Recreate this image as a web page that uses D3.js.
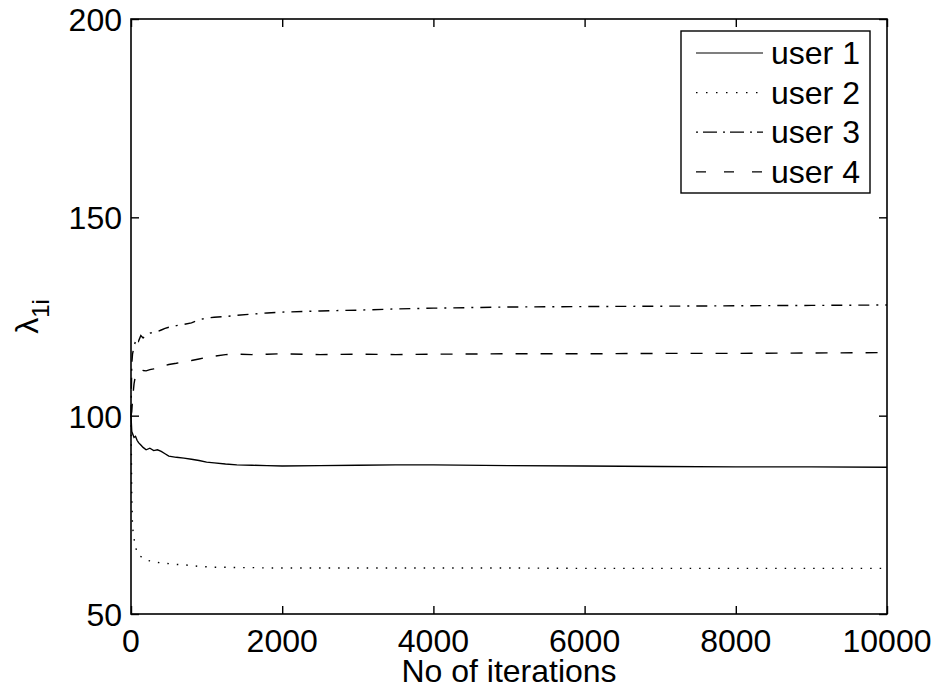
<!DOCTYPE html>
<html>
<head>
<meta charset="utf-8">
<script src="https://cdn.jsdelivr.net/npm/d3@7"></script>
<style>
  body { margin: 0; background: #fff; }
  svg { display: block; font-family: "Liberation Sans", Arial, sans-serif; }
</style>
</head>
<body>
<svg id="chart" width="938" height="694"></svg>
<script>
var ITERS = [0, 10, 20, 40, 60, 80, 100, 130, 160, 200, 250, 300, 350, 400, 450, 500,
  600, 700, 800, 900, 1000, 1100, 1250, 1400, 1600, 1800, 2000, 2500, 3000, 3500,
  4000, 5000, 6000, 7000, 8000, 9000, 10000];

var USER1 = [100, 96, 95.5, 94.5, 94.8, 93.8, 93.2, 92.6, 92.0, 91.4, 91.8, 91.2, 91.4, 91.0, 90.4, 89.8,
  89.5, 89.3, 89.0, 88.7, 88.3, 88.1, 87.8, 87.6, 87.5, 87.4, 87.3, 87.4, 87.5, 87.6,
  87.6, 87.4, 87.3, 87.2, 87.1, 87.1, 87.0];
var USER2 = [100, 80, 72, 69, 67, 65.5, 64.8, 64.5, 64.0, 63.6, 63.4, 63.3, 63.0, 62.9, 62.8, 62.7,
  62.5, 62.4, 62.2, 62.0, 61.9, 61.8, 61.8, 61.7, 61.7, 61.6, 61.6, 61.6, 61.6, 61.6,
  61.6, 61.6, 61.5, 61.5, 61.5, 61.5, 61.5];
var USER3 = [100, 113, 115.5, 117.5, 118.8, 119.5, 118.8, 120.2, 119.6, 120.4, 120.8, 121.0, 121.2, 121.6, 122.0, 122.3,
  122.7, 123.0, 123.4, 124.2, 124.6, 124.8, 125.0, 125.3, 125.6, 125.9, 126.1, 126.4, 126.6, 126.9,
  127.1, 127.4, 127.5, 127.6, 127.7, 127.8, 127.9];
var USER4 = [100, 101, 104, 108, 110.2, 110.8, 111.0, 110.9, 111.4, 111.3, 111.6, 111.8, 112.2, 112.5, 112.6, 112.9,
  113.2, 113.6, 113.9, 114.3, 114.7, 115.0, 115.4, 115.5, 115.4, 115.5, 115.6, 115.4, 115.5, 115.4,
  115.5, 115.6, 115.6, 115.7, 115.7, 115.8, 115.9];

var SERIES_NAMES = ["user 1", "user 2", "user 3", "user 4"];
var X_TICKS = [0, 2000, 4000, 6000, 8000, 10000];
var Y_TICKS = [50, 100, 150, 200];

var SERIES = [
  {name: SERIES_NAMES[0], values: USER1, dash: null, legDash: null},
  {name: SERIES_NAMES[1], values: USER2, dash: "1.5,8", legDash: "1.5,8.5"},
  {name: SERIES_NAMES[2], values: USER3, dash: "11,7,2,7", legDash: "2,5,14,6"},
  {name: SERIES_NAMES[3], values: USER4, dash: "12,13", legDash: "10,18"}
];

var svg = d3.select("#chart");
// note: "top" clashes with window.top, so plot edges get their own names
var plotL = 131, plotR = 887, plotT = 19, plotB = 614;

var x = d3.scaleLinear().domain([0, 10000]).range([plotL, plotR]);
var y = d3.scaleLinear().domain([50, 200]).range([plotB, plotT]);

// series lines
var line = d3.line()
  .x(function(d, i){ return x(ITERS[i]); })
  .y(function(d){ return y(d); });

svg.append("g").selectAll("path.series").data(SERIES).enter()
  .append("path")
  .attr("class", "series")
  .attr("d", function(d){ return line(d.values); })
  .attr("fill", "none")
  .attr("stroke", "#000")
  .attr("stroke-width", 1.4)
  .attr("stroke-dasharray", function(d){ return d.dash; });

// box with inward ticks on every side (matlab style)
var tickLen = 8;
svg.append("rect")
  .attr("x", plotL).attr("y", plotT)
  .attr("width", plotR - plotL).attr("height", plotB - plotT)
  .attr("fill", "none").attr("stroke", "#000").attr("stroke-width", 1.6);

svg.append("g").attr("transform", "translate(0," + plotB + ")")
  .call(d3.axisBottom(x).tickValues(X_TICKS).tickSize(-tickLen).tickFormat(""));
svg.append("g").attr("transform", "translate(0," + plotT + ")")
  .call(d3.axisTop(x).tickValues(X_TICKS).tickSize(-tickLen).tickFormat(""));
svg.append("g").attr("transform", "translate(" + plotL + ",0)")
  .call(d3.axisLeft(y).tickValues(Y_TICKS).tickSize(-tickLen).tickFormat(""));
svg.append("g").attr("transform", "translate(" + plotR + ",0)")
  .call(d3.axisRight(y).tickValues(Y_TICKS).tickSize(-tickLen).tickFormat(""));
svg.selectAll(".domain").remove();
svg.selectAll(".tick line").attr("stroke", "#000").attr("stroke-width", 1.4);

// tick labels
svg.append("g").selectAll("text").data(X_TICKS).enter()
  .append("text")
  .attr("x", function(d){ return x(d); })
  .attr("y", 652)
  .attr("text-anchor", "middle")
  .attr("font-size", 32)
  .text(function(d){ return d; });

svg.append("g").selectAll("text").data(Y_TICKS).enter()
  .append("text")
  .attr("x", 122)
  .attr("y", function(d){ return y(d) + 12; })
  .attr("text-anchor", "end")
  .attr("font-size", 32)
  .text(function(d){ return d; });

// axis titles
svg.append("text")
  .attr("x", (plotL + plotR) / 2)
  .attr("y", 682)
  .attr("text-anchor", "middle")
  .attr("font-size", 32)
  .text("No of iterations");

var ylab = svg.append("text")
  .attr("transform", "translate(38," + ((plotT + plotB) / 2) + ") rotate(-90)")
  .attr("text-anchor", "middle")
  .attr("font-size", 32);
ylab.append("tspan").text("λ");
ylab.append("tspan").attr("dy", 11).attr("font-size", 24).text("1i");

// legend
var leg = svg.append("g");
leg.append("rect")
  .attr("x", 681).attr("y", 31)
  .attr("width", 189).attr("height", 162)
  .attr("fill", "#fff").attr("stroke", "#000").attr("stroke-width", 1.4);

var rows = leg.selectAll("g.row").data(SERIES).enter()
  .append("g").attr("class", "row")
  .attr("transform", function(d, i){ return "translate(0," + (53 + i * 39.6) + ")"; });
rows.append("line")
  .attr("x1", 696).attr("x2", 763)
  .attr("y1", 0).attr("y2", 0)
  .attr("stroke", "#000").attr("stroke-width", 1.2)
  .attr("stroke-dasharray", function(d){ return d.legDash; });
rows.append("text")
  .attr("x", 771)
  .attr("y", 11)
  .attr("font-size", 32)
  .text(function(d){ return d.name; });
</script>
</body>
</html>
